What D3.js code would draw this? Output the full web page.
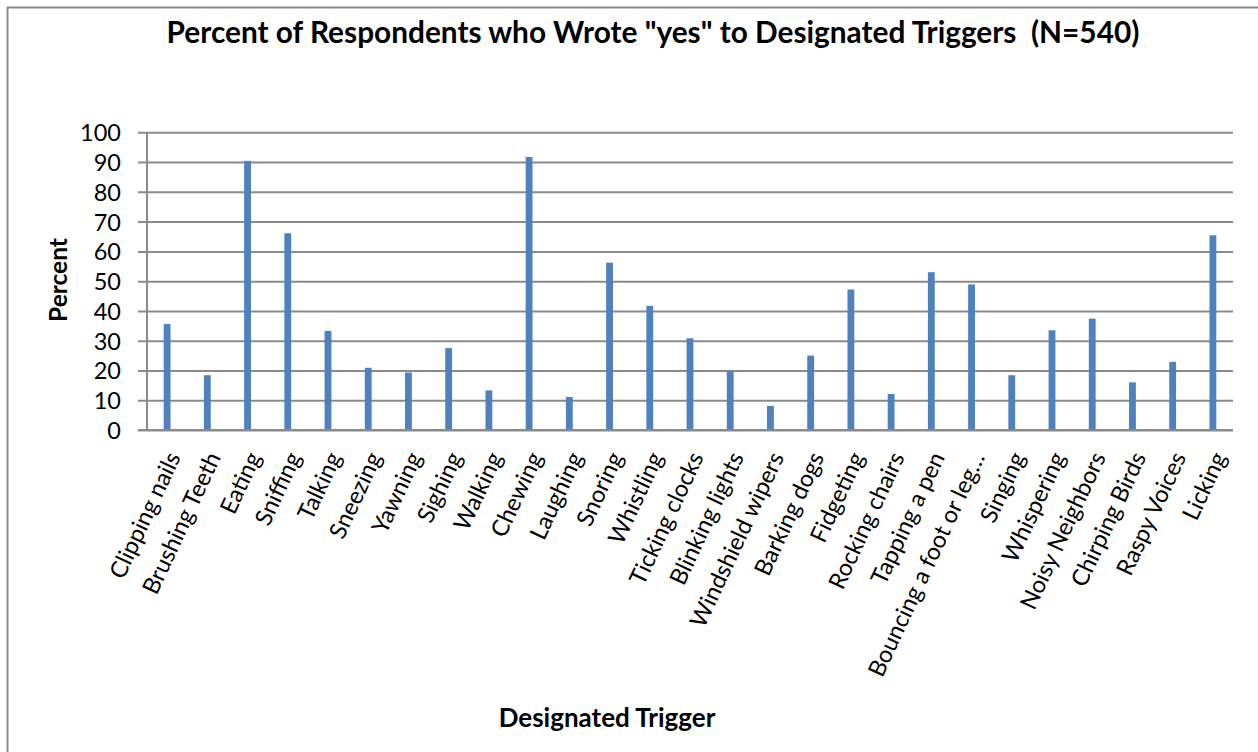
<!DOCTYPE html>
<html>
<head>
<meta charset="utf-8">
<script src="https://cdn.jsdelivr.net/npm/d3@7"></script>
<style>
  html, body { margin: 0; padding: 0; background: #ffffff; }
  svg { display: block; font-family: Lato, "Open Sans", sans-serif; }
  text { white-space: pre; }
</style>
</head>
<body>
<svg id="chart" width="1258" height="752"></svg>
<script>
// Survey triggers and share of respondents (%) answering "yes"
const triggers = [
  "Clipping nails", "Brushing Teeth", "Eating", "Sniffing", "Talking", "Sneezing",
  "Yawning", "Sighing", "Walking", "Chewing", "Laughing", "Snoring", "Whistling",
  "Ticking clocks", "Blinking lights", "Windshield wipers", "Barking dogs",
  "Fidgeting", "Rocking chairs", "Tapping a pen", "Bouncing a foot or leg\u2026",
  "Singing", "Whispering", "Noisy Neighbors", "Chirping Birds", "Raspy Voices", "Licking"
];
const percentYes = [
  35.6, 18.4, 90.4, 66.1, 33.3, 20.9,
  19.3, 27.5, 13.3, 91.7, 11.1, 56.2, 41.7,
  30.8, 19.9, 8.1, 25.0,
  47.2, 12.1, 53.0, 48.9,
  18.4, 33.5, 37.4, 16.0, 22.9, 65.4
];
const yTicks = [0, 10, 20, 30, 40, 50, 60, 70, 80, 90, 100];

const titleText = 'Percent of Respondents who Wrote "yes" to Designated Triggers  (N=540)';
const xTitle = "Designated Trigger";
const yTitle = "Percent";

const W = 1258, H = 752;
const plot = { left: 147, right: 1233, top: 132.3, bottom: 430 };
const gridColor = "#8a8a8a";
const barColor = "#4f81bd";
const labelAngle = -65;

const svg = d3.select("#chart");

svg.append("rect").attr("width", W).attr("height", H).attr("fill", "#fff");
// chart frame (only top and left edges fall inside the page)
svg.append("rect")
  .attr("x", 7.5).attr("y", 7.5)
  .attr("width", W + 40).attr("height", H + 40)
  .attr("fill", "none").attr("stroke", "#878787").attr("stroke-width", 2);

const x = d3.scaleBand()
  .domain(triggers)
  .range([plot.left, plot.right])
  .paddingInner(0.83).paddingOuter(0.415);

const y = d3.scaleLinear().domain([0, 100]).range([plot.bottom, plot.top]);

// horizontal gridlines with outside tick marks
const yAxis = d3.axisLeft(y)
  .tickValues(yTicks)
  .tickSize(-(plot.right - plot.left))
  .tickSizeOuter(0)
  .tickPadding(26)
  .tickFormat(d3.format("d"));

const gy = svg.append("g")
  .attr("transform", `translate(${plot.left},0)`)
  .call(yAxis);
gy.select(".domain").remove();
gy.selectAll(".tick line")
  .attr("x1", -9)
  .attr("stroke", gridColor).attr("stroke-width", 2);
gy.selectAll(".tick text")
  .attr("fill", "#000")
  .attr("font-size", 23.5)
  .attr("font-family", "Lato, 'Open Sans', sans-serif")
  .attr("dy", "0.36em");

// vertical axis line
svg.append("line")
  .attr("x1", plot.left).attr("x2", plot.left)
  .attr("y1", plot.top).attr("y2", plot.bottom)
  .attr("stroke", gridColor).attr("stroke-width", 2);

// bars
svg.append("g").selectAll("rect")
  .data(percentYes)
  .join("rect")
  .attr("x", (d, i) => x(triggers[i]))
  .attr("width", x.bandwidth())
  .attr("y", d => y(d))
  .attr("height", d => y(0) - y(d))
  .attr("fill", barColor);

// baseline redrawn over bar feet
svg.append("line")
  .attr("x1", plot.left - 9).attr("x2", plot.right)
  .attr("y1", y(0)).attr("y2", y(0))
  .attr("stroke", gridColor).attr("stroke-width", 2);

// rotated category labels
svg.append("g").selectAll("text")
  .data(triggers)
  .join("text")
  .attr("transform", d => `translate(${x(d) + x.bandwidth() / 2 + 14},457) rotate(${labelAngle})`)
  .attr("text-anchor", "end")
  .attr("font-size", 23.5)
  .attr("fill", "#000")
  .text(d => d);

// titles
svg.append("text")
  .attr("x", 653).attr("y", 43)
  .attr("text-anchor", "middle")
  .attr("font-size", 29.8).attr("font-weight", "bold")
  .text(titleText);

svg.append("text")
  .attr("x", 607).attr("y", 727)
  .attr("text-anchor", "middle")
  .attr("font-size", 26).attr("font-weight", "bold")
  .text(xTitle);

svg.append("text")
  .attr("transform", "translate(67,280) rotate(-90)")
  .attr("text-anchor", "middle")
  .attr("font-size", 24.5).attr("font-weight", "bold")
  .text(yTitle);
</script>
</body>
</html>
